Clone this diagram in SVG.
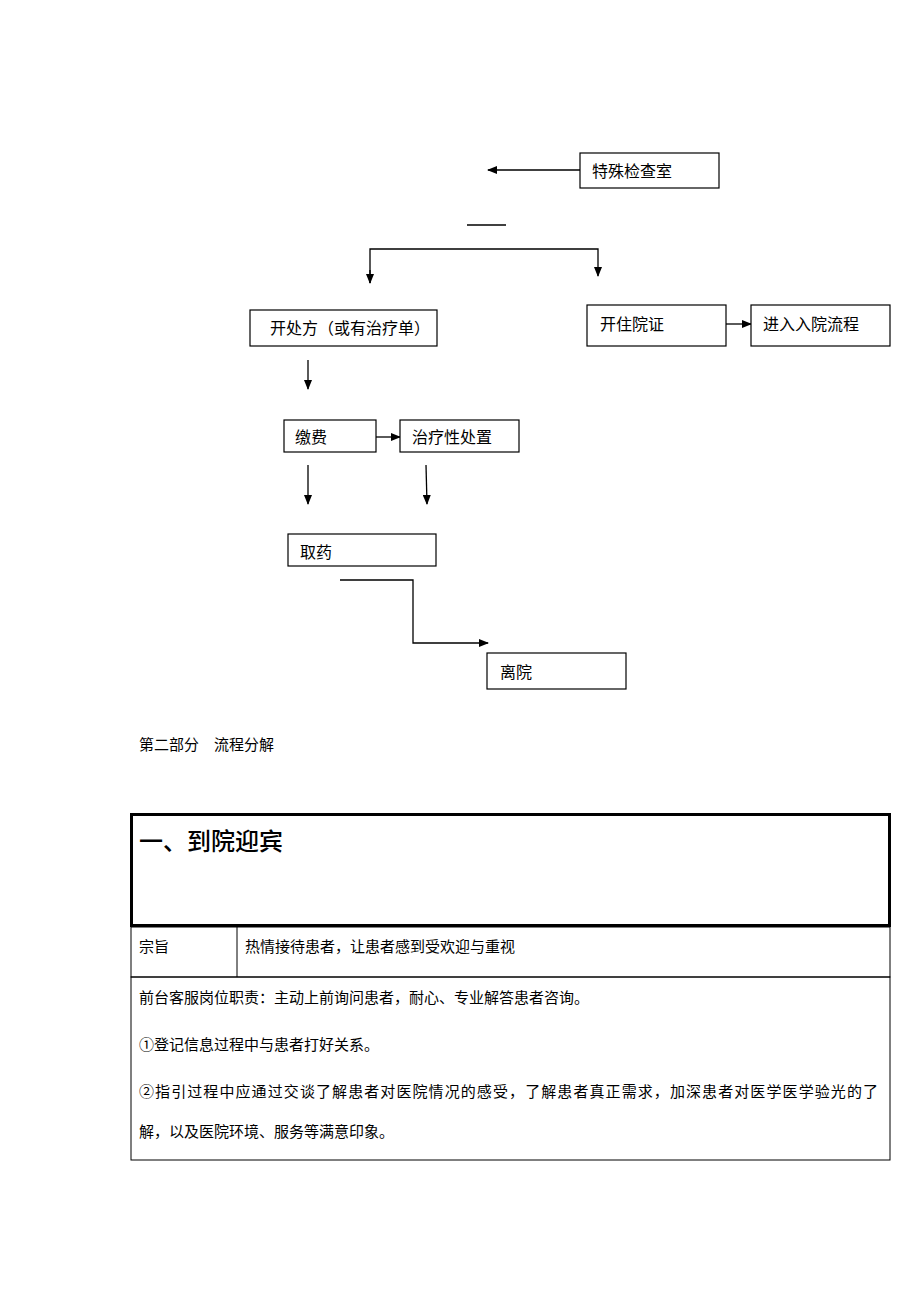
<svg xmlns="http://www.w3.org/2000/svg" width="920" height="1302" viewBox="0 0 920 1302">
<defs>
<marker id="ah" markerWidth="10" markerHeight="8" refX="9" refY="4" orient="auto" markerUnits="userSpaceOnUse">
<path d="M0,0 L10,4 L0,8 Z" fill="#000"/>
</marker>
<style>
.box{fill:#fff;stroke:#000;stroke-width:1.2}
.t{font-family:"Noto Sans CJK SC","Liberation Serif",sans-serif;font-size:16px;fill:#000}
.c{fill:none;stroke:#000;stroke-width:1.3}
.tb{fill:none;stroke:#000;stroke-width:1}
</style>
</defs>
<rect width="920" height="1302" fill="#fff"/>
<g id="connectors">
<line class="c" x1="580" y1="170" x2="488" y2="170" marker-end="url(#ah)"/>
<line class="c" x1="467" y1="225" x2="506" y2="225"/>
<polyline class="c" points="370,283 370,249 598,249 598,276" marker-end="url(#ah)"/>
<line class="c" x1="370" y1="270" x2="370" y2="283" marker-end="url(#ah)"/>
<line class="c" x1="726" y1="324" x2="751" y2="324" marker-end="url(#ah)"/>
<line class="c" x1="308" y1="360" x2="308" y2="389" marker-end="url(#ah)"/>
<line class="c" x1="376" y1="437" x2="400" y2="437" marker-end="url(#ah)"/>
<line class="c" x1="308" y1="465" x2="308" y2="504" marker-end="url(#ah)"/>
<line class="c" x1="426" y1="465" x2="427" y2="504" marker-end="url(#ah)"/>
<polyline class="c" points="340,580 413,580 413,643 488,643" marker-end="url(#ah)"/>
</g>
<g id="n-special"><rect class="box" x="580" y="153" width="139" height="35"/><text class="t" x="592" y="177">特殊检查室</text></g>
<g id="n-prescribe"><rect class="box" x="250" y="310" width="187" height="36"/><text class="t" x="270" y="334">开处方（或有治疗单）</text></g>
<g id="n-admit"><rect class="box" x="587" y="305" width="139" height="41"/><text class="t" x="600" y="330">开住院证</text></g>
<g id="n-enter"><rect class="box" x="751" y="305" width="139" height="41"/><text class="t" x="763" y="330">进入入院流程</text></g>
<g id="n-pay"><rect class="box" x="284" y="420" width="92" height="32"/><text class="t" x="295" y="443">缴费</text></g>
<g id="n-treat"><rect class="box" x="400" y="420" width="119" height="32"/><text class="t" x="412" y="443">治疗性处置</text></g>
<g id="n-medicine"><rect class="box" x="288" y="534" width="148" height="32"/><text class="t" x="300" y="558">取药</text></g>
<g id="n-leave"><rect class="box" x="487" y="653" width="139" height="36"/><text class="t" x="500" y="678">离院</text></g>
<text class="t" x="139" y="750" style="font-size:15px">第二部分　流程分解</text>
<g id="table">
<rect x="131.5" y="814.5" width="758" height="111" fill="none" stroke="#000" stroke-width="3"/>
<text class="t" x="139" y="850" style="font-size:24px;font-weight:500">一、到院迎宾</text>
<rect class="tb" x="131" y="927" width="759" height="50"/>
<line class="tb" x1="237" y1="927" x2="237" y2="977"/>
<text class="t" x="139" y="952" style="font-size:15px">宗旨</text>
<text class="t" x="245" y="952" style="font-size:15px">热情接待患者，让患者感到受欢迎与重视</text>
<rect class="tb" x="131" y="977" width="759" height="183"/>
<text class="t" x="139" y="1003" style="font-size:15px">前台客服岗位职责：主动上前询问患者，耐心、专业解答患者咨询。</text>
<text class="t" x="139" y="1050" style="font-size:15px">①登记信息过程中与患者打好关系。</text>
<text class="t" x="139" y="1097" style="font-size:15px" textLength="739" lengthAdjust="spacing">②指引过程中应通过交谈了解患者对医院情况的感受，了解患者真正需求，加深患者对医学医学验光的了</text>
<text class="t" x="139" y="1137" style="font-size:15px">解，以及医院环境、服务等满意印象。</text>
</g>
</svg>
